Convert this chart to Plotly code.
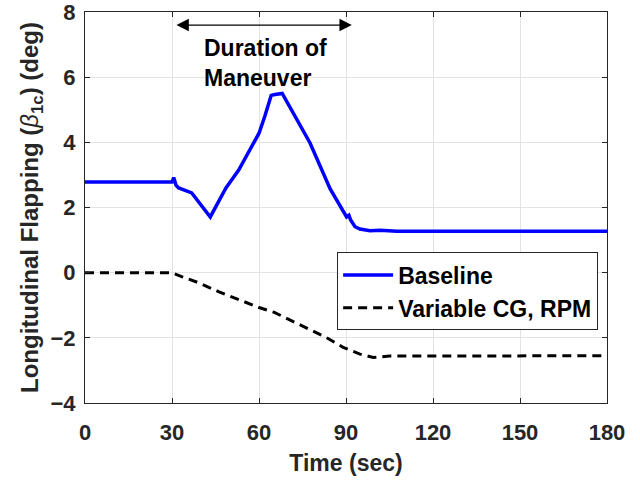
import plotly.graph_objects as go

# Baseline series (time in sec, flapping in deg)
base_t = [0, 30, 30.6, 31.4, 32.3, 35.0, 36.8, 43.2, 48.6, 53.0, 60.0, 62.0, 64.2, 65.5, 68.0,
          77.6, 84.5, 90.2, 91.0, 91.6, 93.1, 94.8, 98.3, 101.7, 107.6, 180]
base_v = [2.78, 2.78, 2.92, 2.68, 2.6, 2.52, 2.45, 1.71, 2.6, 3.15, 4.28, 4.8, 5.44, 5.47, 5.5,
          3.98, 2.58, 1.71, 1.76, 1.62, 1.41, 1.34, 1.29, 1.30, 1.27, 1.27]

# Variable CG, RPM series
var_t = [0, 30, 33.3, 39.2, 46.0, 53.0, 60.0, 65.3, 71.6, 77.4, 83.2, 89.0, 94.8, 99.4, 105.0, 180]
var_v = [0, 0, -0.12, -0.31, -0.58, -0.83, -1.07, -1.22, -1.5, -1.74, -1.99, -2.29, -2.5, -2.6, -2.56, -2.55]

x_ticks = [0, 30, 60, 90, 120, 150, 180]
y_ticks = [-4, -2, 0, 2, 4, 6, 8]

FONT = "Liberation Sans, Arial, Helvetica, sans-serif"
AX = "#262626"

fig = go.Figure()
fig.add_trace(go.Scatter(x=base_t, y=base_v, mode="lines", name="Baseline",
                         line=dict(color="#0000ff", width=3.5)))
fig.add_trace(go.Scatter(x=var_t, y=var_v, mode="lines", name="Variable CG, RPM",
                         line=dict(color="#000000", width=3, dash="9px,6px")))

axis_common = dict(showline=True, linecolor=AX, linewidth=1, mirror="ticks",
                   ticks="inside", ticklen=5, tickcolor=AX, automargin=False,
                   ticklabeloverflow="allow",
                   showgrid=True, gridcolor="#e3e3e3", gridwidth=1, zeroline=False,
                   tickfont=dict(size=22, color=AX, family=FONT, weight="bold"))

fig.update_xaxes(range=[0, 180], tickvals=x_ticks, ticklabelstandoff=10,
                 title=dict(text="Time (sec)", font=dict(size=23, color=AX, family=FONT, weight="bold"),
                            standoff=10),
                 **axis_common)
fig.update_yaxes(range=[-4, 8], tickvals=y_ticks, ticklabelstandoff=4,
                 title=dict(text="Longitudinal Flapping (<span style=\"font-weight:normal\"><i>β</i></span><sub>1c</sub>) (deg)",
                            font=dict(size=24, color=AX, family=FONT, weight="bold"), standoff=5),
                 **axis_common)

fig.add_annotation(x=92, y=7.6, ax=30.5, ay=7.6, xref="x", yref="y", axref="x", ayref="y",
                   text=" ", showarrow=True, arrowhead=2, startarrowhead=2, arrowside="end+start",
                   arrowsize=1.9, startarrowsize=1.9, arrowwidth=1.3, arrowcolor="#000000")
fig.add_annotation(x=40.5, y=6.44, xref="x", yref="y", text="Duration of<br>Maneuver",
                   showarrow=False, xanchor="left", align="left",
                   font=dict(size=23, color="#000000", family=FONT, weight="bold"))

fig.update_layout(
    width=640, height=483,
    margin=dict(l=85, r=33, t=12, b=80, autoexpand=False),
    paper_bgcolor="white", plot_bgcolor="white",
    font=dict(family=FONT, weight="bold", color="#000000"),
    legend=dict(x=0.483, y=0.385, xanchor="left", yanchor="top",
                bgcolor="white", bordercolor=AX, borderwidth=1,
                font=dict(size=23, family=FONT, weight="bold", color="#000000"),
                tracegroupgap=0, itemwidth=50),
    showlegend=True,
)

fig.write_html("out.html", config={"displayModeBar": False},
               post_script="document.body.style.margin='0';document.body.style.overflow='hidden';")
